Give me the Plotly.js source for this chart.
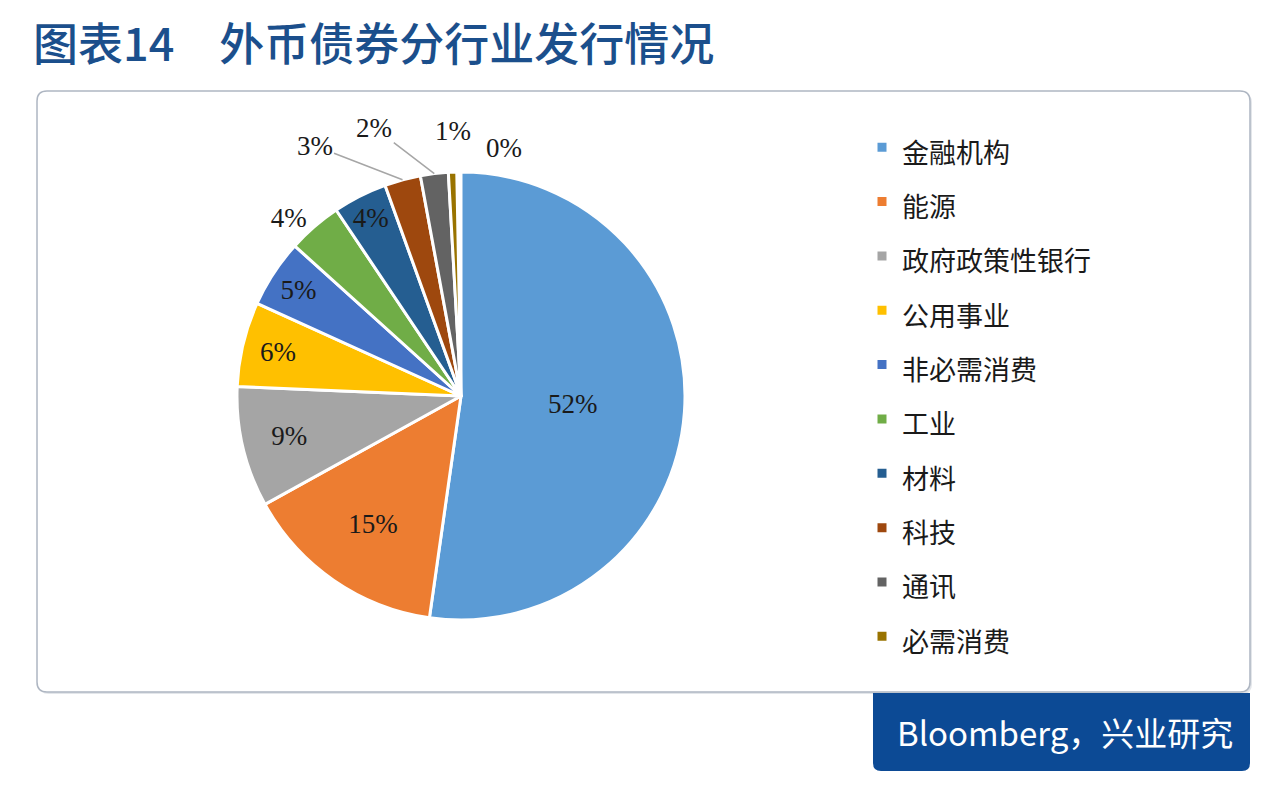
<!DOCTYPE html>
<html>
<head>
<meta charset="utf-8">
<script src="https://cdn.plot.ly/plotly-3.0.1.min.js"></script>
<style>html,body{margin:0;padding:0;background:#fff;}#chart{width:1280px;height:789px;}</style>
</head>
<body>
<div id="chart"></div>
<script>
// ---- data ----
const categories = ['金融机构','能源','政府政策性银行','公用事业','非必需消费','工业','材料','科技','通讯','必需消费',' '];
const shares = [52.2, 14.7, 8.7, 6.1, 4.9, 3.9, 3.9, 2.6, 2.0, 0.6, 0.3];
const sliceColors = ['#5B9BD5','#ED7D31','#A5A5A5','#FFC000','#4472C4','#70AD47','#255E91','#9E480E','#636363','#997300','rgba(255,255,255,0)'];
const borderColors = ['#FFFFFF','#FFFFFF','#FFFFFF','#FFFFFF','#FFFFFF','#FFFFFF','#FFFFFF','#FFFFFF','#FFFFFF','#FFFFFF','rgba(255,255,255,0)'];
// where each slice's percentage is written: by the pie itself, or as a callout
const labelPositions = ['inside','inside','inside','inside','inside','outside','inside','none','none','none','none'];
const titleText = '图表14\u3000外币债券分行业发行情况';
const sourceText = 'Bloomberg，兴业研究';

// ---- layout constants ----
const W = 1280, H = 789;
const pieBox = { x0: 237, x1: 685, y0: 172, y1: 620 };   // pixel box of the pie domain
// callout offsets (pixels from the slice rim) for slices labelled with a callout
const calloutStyle = {
  7: { ax: -88, ay: -34, line: '#A6A6A6' },
  8: { ax: -60, ay: -46, line: '#A6A6A6' },
  9: { ax: 0,   ay: -41, line: 'rgba(0,0,0,0)' },
  10:{ ax: 45,  ay: -24, line: 'rgba(0,0,0,0)' }
};
const labelFont = { family: 'Liberation Serif, Times New Roman, serif', size: 27, color: '#1A1A1A' };

const px = x => x / W;
const py = y => 1 - y / H;
function roundRect(x0, y0, x1, y1, r, corners) {
  const c = corners || [true, true, true, true];
  const P = (x, y) => px(x).toFixed(5) + ',' + py(y).toFixed(5);
  let d = 'M' + P(x0 + (c[0] ? r : 0), y0);
  d += ' L' + P(x1 - (c[1] ? r : 0), y0);
  if (c[1]) d += ' Q' + P(x1, y0) + ' ' + P(x1, y0 + r);
  d += ' L' + P(x1, y1 - (c[2] ? r : 0));
  if (c[2]) d += ' Q' + P(x1, y1) + ' ' + P(x1 - r, y1);
  d += ' L' + P(x0 + (c[3] ? r : 0), y1);
  if (c[3]) d += ' Q' + P(x0, y1) + ' ' + P(x0, y1 - r);
  d += ' L' + P(x0, y0 + (c[0] ? r : 0));
  if (c[0]) d += ' Q' + P(x0, y0) + ' ' + P(x0 + r, y0);
  return d + ' Z';
}

// callouts anchored on the rim at each slice's mid-angle (clockwise from 12 o'clock)
const total = shares.reduce((a, b) => a + b, 0);
const cx = (pieBox.x0 + pieBox.x1) / 2, cy = (pieBox.y0 + pieBox.y1) / 2;
const rad = Math.min(pieBox.x1 - pieBox.x0, pieBox.y1 - pieBox.y0) / 2;
const callouts = [];
let cum = 0;
shares.forEach((v, i) => {
  const mid = (cum + v / 2) / total * 2 * Math.PI;
  cum += v;
  const st = calloutStyle[i];
  if (!st) return;
  const rx = cx + rad * Math.sin(mid), ry = cy - rad * Math.cos(mid);
  callouts.push({
    text: Math.round(v / total * 100) + '%',
    xref: 'paper', yref: 'paper', x: px(rx), y: py(ry),
    showarrow: true, arrowhead: 0, arrowwidth: 1.5, arrowcolor: st.line,
    ax: st.ax, ay: st.ay, standoff: 0,
    font: labelFont
  });
});

const legendLabels = categories.map(c => '<span style="font-size:27px">' + c + '</span>');

const trace = {
  type: 'pie',
  labels: legendLabels,
  values: shares,
  sort: false,
  direction: 'clockwise',
  rotation: 0,
  marker: { colors: sliceColors, line: { color: borderColors, width: 3 } },
  texttemplate: '%{percent:.0%}',
  textposition: labelPositions,
  insidetextorientation: 'horizontal',
  textfont: labelFont,
  hoverinfo: 'label+percent',
  domain: { x: [px(pieBox.x0), px(pieBox.x1)], y: [py(pieBox.y1), py(pieBox.y0)] }
};

const layout = {
  width: W, height: H,
  margin: { l: 0, r: 0, t: 0, b: 0 },
  paper_bgcolor: '#FFFFFF',
  showlegend: true,
  uniformtext: { mode: 'show', minsize: 27 },
  title: {
    text: titleText,
    x: px(33), xanchor: 'left', y: py(45), yanchor: 'middle',
    font: { family: 'Noto Sans CJK SC, sans-serif', size: 45, color: '#1B4F8C', weight: 500 }
  },
  legend: {
    x: px(862), xanchor: 'left', y: py(115), yanchor: 'top',
    font: { family: 'Noto Sans CJK SC, sans-serif', size: 39.5, color: '#1A1A1A' },
    bgcolor: 'rgba(0,0,0,0)', traceorder: 'normal'
  },
  shapes: [
    { type: 'path', xref: 'paper', yref: 'paper', path: roundRect(39, 93, 1252, 694, 10),
      fillcolor: '#E3E6EA', line: { width: 0 }, layer: 'below' },
    { type: 'path', xref: 'paper', yref: 'paper', path: roundRect(37, 91, 1250, 692, 10),
      fillcolor: '#FFFFFF', line: { color: '#AEB6C2', width: 1.5 }, layer: 'below' },
    { type: 'path', xref: 'paper', yref: 'paper', path: roundRect(873, 693, 1250, 771, 8, [false, false, true, true]),
      fillcolor: '#0C4A95', line: { width: 0 }, layer: 'below' }
  ],
  annotations: callouts.concat([
    { text: sourceText, xref: 'paper', yref: 'paper', x: px(1065), y: py(732),
      xanchor: 'center', yanchor: 'middle', showarrow: false,
      font: { family: 'Noto Sans CJK SC, sans-serif', size: 33, color: '#FFFFFF' } }
  ])
};

Plotly.newPlot('chart', [trace], layout, { displayModeBar: false, staticPlot: true });
</script>
</body>
</html>
